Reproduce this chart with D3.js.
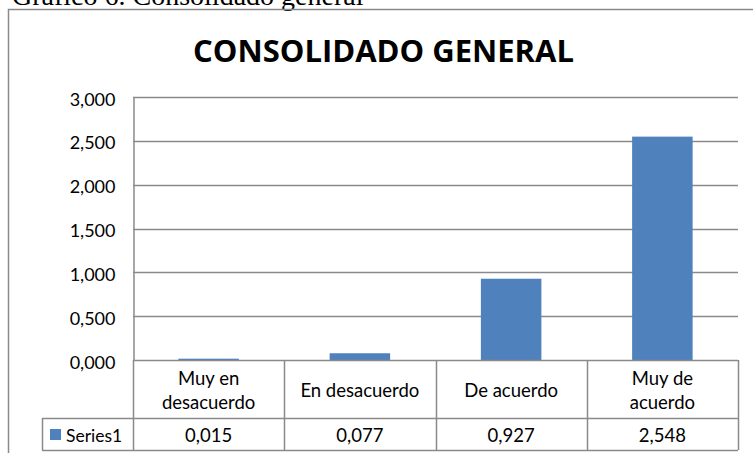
<!DOCTYPE html>
<html>
<head>
<meta charset="utf-8">
<script src="https://cdn.jsdelivr.net/npm/d3@7"></script>
<style>
  body { margin: 0; background: #fff; }
  text { font-family: Lato, "Open Sans", sans-serif; fill: #000; }
</style>
</head>
<body>
<script>
// daten
var categories = [["Muy en", "desacuerdo"], ["En desacuerdo"], ["De acuerdo"], ["Muy de", "acuerdo"]];
var values = [0.015, 0.077, 0.927, 2.548];
var yTicks = [0, 0.5, 1, 1.5, 2, 2.5, 3];
var seriesName = "Series1";

var W = 753, H = 453;
var plot = {left: 133, right: 738, top: 97, bottom: 360};
var rowMid = 418, rowBottom = 450, legendLeft = 42;
var gridColor = "#8a8a8a";

var fmt = d3.formatLocale({decimal: ",", thousands: ".", grouping: [3], currency: ["", ""]}).format(".3f");

var svg = d3.select("body").append("svg")
    .attr("width", W)
    .attr("height", H);

// caption above the chart (cut off at the top, like in the source)
svg.append("text")
    .attr("x", 12).attr("y", 5)
    .style("font-family", "'Liberation Serif', serif")
    .style("font-size", "28px")
    .text("Gráfico 6. Consolidado general");

// outer frame
svg.append("rect")
    .attr("x", 8.5).attr("y", 9.5)
    .attr("width", W + 20).attr("height", H + 20)
    .attr("fill", "none").attr("stroke", gridColor).attr("stroke-width", 1.5);

// title
svg.append("text")
    .attr("x", 383.5).attr("y", 62)
    .attr("text-anchor", "middle")
    .style("font-family", "'Open Sans', sans-serif")
    .style("font-weight", "bold")
    .style("font-size", "31px")
    .text("CONSOLIDADO GENERAL");

// scales
var x = d3.scaleBand()
    .domain(d3.range(categories.length))
    .range([plot.left, plot.right])
    .paddingInner(0.6)
    .paddingOuter(0.3);

var y = d3.scaleLinear()
    .domain([0, 3])
    .range([plot.bottom, plot.top]);

var step = x.step();
var colCenter = function(i) { return x(i) + x.bandwidth() / 2; };

// gridlines
svg.append("g").selectAll("line")
    .data(yTicks.filter(function(d) { return d > 0; }))
    .join("line")
    .attr("x1", plot.left).attr("x2", plot.right)
    .attr("y1", function(d) { return Math.round(y(d)) + 0.5; })
    .attr("y2", function(d) { return Math.round(y(d)) + 0.5; })
    .attr("stroke", gridColor).attr("stroke-width", 1.5);

// y axis via d3.axisLeft
var yAxis = svg.append("g")
    .attr("transform", "translate(" + (plot.left + 0.5) + ",0)")
    .call(d3.axisLeft(y).tickValues(yTicks).tickFormat(fmt).tickSize(0).tickPadding(18));
yAxis.select(".domain").attr("stroke", gridColor).attr("stroke-width", 1.5);
yAxis.selectAll("text")
    .style("font-family", "Lato, sans-serif")
    .style("font-size", "18px")
    .attr("dy", "0.45em");

// bars
svg.append("g").selectAll("rect")
    .data(values)
    .join("rect")
    .attr("x", function(d, i) { return x(i); })
    .attr("width", x.bandwidth())
    .attr("y", function(d) { return y(d); })
    .attr("height", function(d) { return y(0) - y(d); })
    .attr("fill", "#4F81BD");

// data table lines
var table = svg.append("g")
    .attr("stroke", gridColor).attr("stroke-width", 1.5);
table.append("line")
    .attr("x1", plot.left).attr("x2", plot.right)
    .attr("y1", plot.bottom + 0.5).attr("y2", plot.bottom + 0.5);
table.append("line")
    .attr("x1", legendLeft).attr("x2", plot.right)
    .attr("y1", rowMid + 0.5).attr("y2", rowMid + 0.5);
table.append("line")
    .attr("x1", legendLeft).attr("x2", plot.right)
    .attr("y1", rowBottom + 0.5).attr("y2", rowBottom + 0.5);
table.append("line")
    .attr("x1", legendLeft + 0.5).attr("x2", legendLeft + 0.5)
    .attr("y1", rowMid).attr("y2", rowBottom);
table.selectAll(".col")
    .data(d3.range(categories.length + 1))
    .join("line")
    .attr("class", "col")
    .attr("x1", function(i) { return Math.round(plot.left + i * step) + 0.5; })
    .attr("x2", function(i) { return Math.round(plot.left + i * step) + 0.5; })
    .attr("y1", plot.bottom).attr("y2", rowBottom);

// category labels
var catText = svg.append("g").selectAll("text")
    .data(categories)
    .join("text")
    .attr("text-anchor", "middle")
    .style("font-size", "18.5px")
    .attr("y", function(d) { return d.length > 1 ? 385 : 397; });
catText.selectAll("tspan")
    .data(function(d, i) { return d.map(function(t) { return {t: t, i: i}; }); })
    .join("tspan")
    .attr("x", function(d) { return colCenter(d.i); })
    .attr("dy", function(d, j) { return j === 0 ? 0 : 23.5; })
    .text(function(d) { return d.t; });

// values row
svg.append("g").selectAll("text")
    .data(values)
    .join("text")
    .attr("x", function(d, i) { return colCenter(i); })
    .attr("y", 441.5)
    .attr("text-anchor", "middle")
    .style("font-size", "18.5px")
    .text(function(d) { return fmt(d); });

// legend key
svg.append("rect")
    .attr("x", 50).attr("y", 429)
    .attr("width", 11).attr("height", 11)
    .attr("fill", "#4F81BD");
svg.append("text")
    .attr("x", 66).attr("y", 441.5)
    .style("font-size", "17.5px")
    .text(seriesName);
</script>
</body>
</html>
